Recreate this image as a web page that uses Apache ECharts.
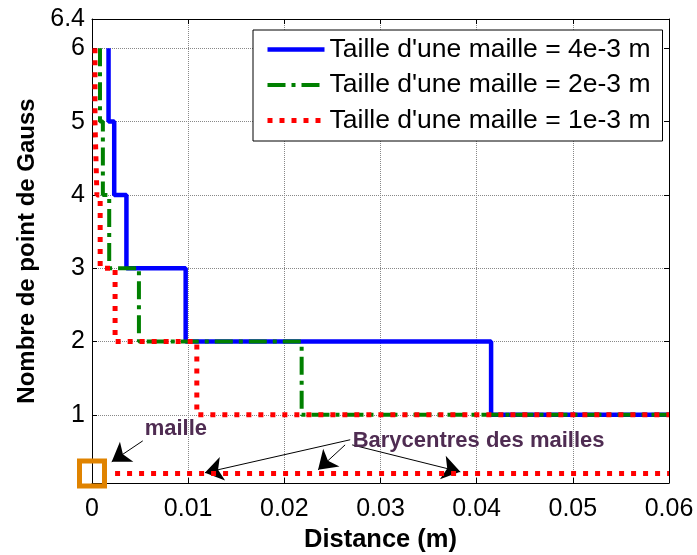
<!DOCTYPE html>
<html>
<head>
<meta charset="utf-8">
<script src="https://cdn.jsdelivr.net/npm/echarts@6/dist/echarts.min.js"></script>
<style>
html,body{margin:0;padding:0;background:#fff;}
#main{width:697px;height:555px;}
</style>
</head>
<body>
<div id="main"></div>
<script>
// ---- data ----
const seriesNames = ["Taille d'une maille = 4e-3 m", "Taille d'une maille = 2e-3 m", "Taille d'une maille = 1e-3 m"];
const levels = [6, 5, 4, 3, 2, 1];            // Gauss point counts (steps)
const blueBreaks  = [0.00172, 0.00231, 0.00358, 0.00974, 0.0415];
const greenBreaks = [0.00083, 0.00113, 0.00179, 0.00488, 0.0218];
const redBreaks   = [0.00031, 0.00051, 0.00085, 0.0024, 0.0109];
const xEnd = 0.06;
const baryLine = [[0.0024, 0.2], [0.06, 0.2]];  // barycentres (1e-3 m mesh)
const meshSquare = [[0, 0.2]];
const yTicks = [1, 2, 3, 4, 5, 6];
const yLabels = [1, 2, 3, 4, 5, 6, 6.4];
// annotation anchors (data coordinates)
const noteTexts = [[0.00872, 0.81, 'maille'], [0.0402, 0.645, 'Barycentres des mailles']];
const noteArrows = [
  [[0.00528, 0.645], [0.00205, 0.36]],
  [[0.02685, 0.66], [0.01174, 0.21]],
  [[0.02632, 0.59], [0.02351, 0.25]],
  [[0.02705, 0.59], [0.0383, 0.222]]
];

function steps(breaks) {
  const pts = [[breaks[0], levels[0]]];
  for (let i = 0; i < breaks.length; i++) {
    pts.push([breaks[i], levels[i]]);
    pts.push([breaks[i], levels[i + 1]]);
  }
  pts.push([xEnd, levels[levels.length - 1]]);
  return pts;
}

const FONT = 'Liberation Sans, Arial, sans-serif';
const colors = ['#0000ff', '#008000', '#ff0000'];
const widths = [4.5, 4, 5];
const dashes = ['solid', [18, 6, 4, 6], [5, 7]];

const chart = echarts.init(document.getElementById('main'), null, {renderer: 'canvas'});

const option = {
  animation: false,
  textStyle: {fontFamily: FONT},
  grid: {left: 92, top: 19, width: 577, height: 464, show: false, outerBoundsMode: 'none'},
  legend: {
    data: seriesNames.map((n, i) => ({
      name: n,
      itemStyle: {opacity: 0},
      lineStyle: {width: widths[i], color: colors[i], type: dashes[i]}
    })),
    orient: 'vertical',
    left: 253, top: 30,
    itemWidth: 57, itemHeight: 14, itemGap: 8.5,
    padding: [6, 12, 7, 12],
    borderColor: '#000', borderWidth: 1, backgroundColor: '#fff',
    textStyle: {fontSize: 26.5, color: '#000', fontFamily: FONT, lineHeight: 26.5},
    selectedMode: false
  },
  xAxis: [{
    type: 'value', min: 0, max: 0.06, interval: 0.01,
    name: 'Distance (m)', nameLocation: 'middle', nameGap: 44,
    nameTextStyle: {fontSize: 25.5, fontWeight: 'bold', color: '#000', fontFamily: FONT},
    axisLine: {show: true, lineStyle: {color: '#000', width: 1}},
    axisTick: {show: true, inside: true, length: 5, lineStyle: {color: '#000'}},
    axisLabel: {fontSize: 25, color: '#000', margin: 14, fontFamily: FONT,
      formatter: v => String(Math.round(v * 100) / 100)},
    splitLine: {show: true, lineStyle: {color: '#888', type: 'dotted', width: 1}}
  }, {
    type: 'value', position: 'top', min: 0, max: 0.06, interval: 0.01,
    axisLine: {show: true, onZero: false, lineStyle: {color: '#000', width: 1}},
    axisTick: {show: true, inside: true, length: 5, lineStyle: {color: '#000'}},
    axisLabel: {show: false}, splitLine: {show: false}
  }],
  yAxis: [{
    type: 'value', min: 0.07, max: 6.4,
    name: 'Nombre de point de Gauss', nameLocation: 'middle', nameGap: 53,
    nameTextStyle: {fontSize: 24, fontWeight: 'bold', color: '#000', fontFamily: FONT},
    axisLine: {show: true, lineStyle: {color: '#000', width: 1}},
    axisTick: {show: true, inside: true, length: 5, customValues: yTicks, lineStyle: {color: '#000'}},
    axisLabel: {fontSize: 25, color: '#000', margin: 7, customValues: yLabels, fontFamily: FONT},
    splitLine: {show: true, lineStyle: {color: '#888', type: 'dotted', width: 1}}
  }, {
    type: 'value', position: 'right', min: 0.07, max: 6.4,
    axisLine: {show: true, onZero: false, lineStyle: {color: '#000', width: 1}},
    axisTick: {show: true, inside: true, length: 5, customValues: yTicks, lineStyle: {color: '#000'}},
    axisLabel: {show: false}, splitLine: {show: false}
  }],
  series: [
    {name: seriesNames[0], type: 'line', data: steps(blueBreaks), symbol: 'none',
      lineStyle: {color: colors[0], width: widths[0], type: dashes[0]}, itemStyle: {color: colors[0]}, z: 3},
    {name: seriesNames[1], type: 'line', data: steps(greenBreaks), symbol: 'none',
      lineStyle: {color: colors[1], width: widths[1], type: dashes[1]}, itemStyle: {color: colors[1]}, z: 4},
    {name: seriesNames[2], type: 'line', data: steps(redBreaks), symbol: 'none',
      lineStyle: {color: colors[2], width: widths[2], type: dashes[2]}, itemStyle: {color: colors[2]}, z: 5},
    {name: 'bary', type: 'line', data: baryLine, symbol: 'none',
      lineStyle: {color: colors[2], width: widths[2], type: dashes[2]}, z: 5,
      markLine: {
        silent: true, symbol: ['none', 'arrow'], symbolSize: 18,
        label: {show: false},
        lineStyle: {color: '#000', width: 1, type: 'solid', opacity: 1},
        data: noteArrows.map(a => [{coord: a[0]}, {coord: a[1]}])
      }},
    {name: 'mesh', type: 'scatter', data: meshSquare, symbol: 'rect', symbolSize: 25,
      itemStyle: {color: 'rgba(0,0,0,0)', borderColor: '#e08300', borderWidth: 5, opacity: 1}, z: 6, clip: false},
    {name: 'notes', type: 'scatter', data: noteTexts, symbolSize: 1,
      itemStyle: {color: 'rgba(0,0,0,0)', opacity: 1}, z: 7,
      label: {show: true, position: 'inside', formatter: p => p.data[2], opacity: 1,
        fontSize: 22, fontWeight: 'bold', color: '#4f2c52', fontFamily: FONT}}
  ]
};
chart.setOption(option);
</script>
</body>
</html>
